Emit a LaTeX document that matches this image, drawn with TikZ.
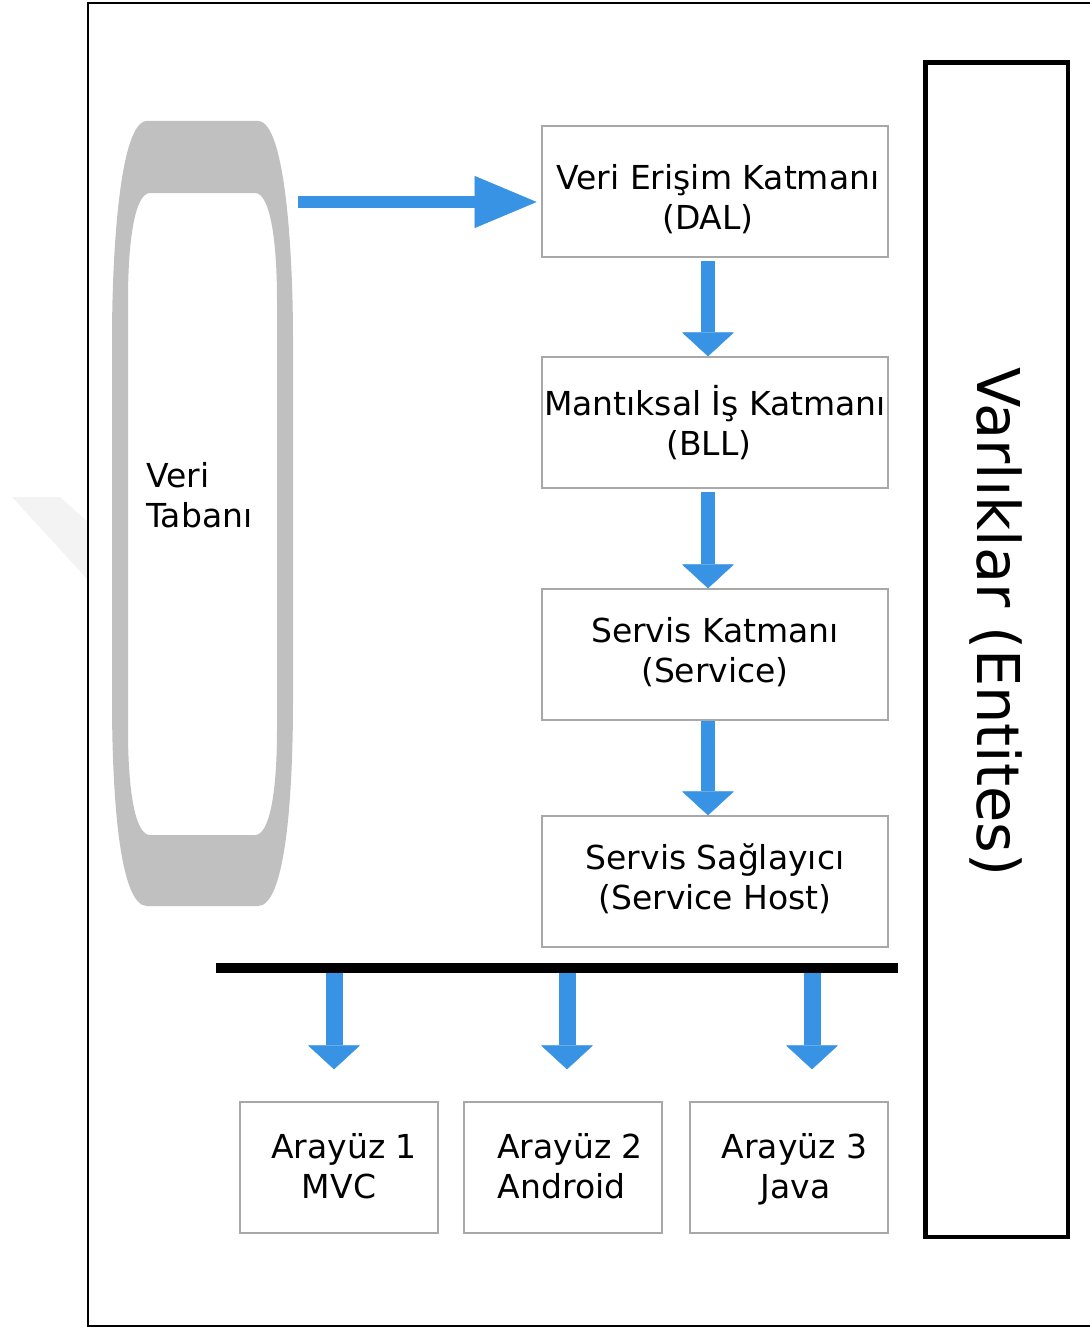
\documentclass[tikz,border=0pt]{standalone}
\usepackage{fontspec}
\setmainfont{DejaVu Sans}
\usetikzlibrary{arrows.meta}
\definecolor{arrowblue}{HTML}{3993E5}
\definecolor{dbgray}{HTML}{C0C0C0}
\definecolor{boxgray}{HTML}{A8A8A8}
\definecolor{wmgray}{HTML}{F3F3F3}
\begin{document}
\begin{tikzpicture}[x=1pt,y=-1pt,
  layer/.style={draw=boxgray, line width=1.5pt, minimum width=346pt, minimum height=131pt,
    align=center, inner sep=0pt, font=\fontsize{33}{40}\selectfont},
  uibox/.style={layer, minimum width=198pt},
  entbox/.style={draw=black, line width=4.5pt, minimum width=142.5pt, minimum height=1174.5pt, inner sep=0pt},
  bluearrow/.style={draw=arrowblue, line width=#1,
    -{Triangle[width=52pt,length=24pt,line width=0.5pt,round]}},
  bluearrow/.default=14pt
]
\useasboundingbox (0,0) rectangle (1089,1327);
% watermark
\fill[wmgray] (12,497) -- (60,497) -- (88,522) -- (88,580) -- cycle;
% outer frame
\draw[line width=2pt] (1100,3) -- (88,3) -- (88,1326) -- (1100,1326);

% database
\fill[dbgray, even odd rule]
  (147,121) -- (258,121) .. controls (285,121) and (293,250) .. (293,340) -- (293,700)
  .. controls (293,800) and (285,906) .. (258,906) -- (147,906)
  .. controls (120,906) and (112,800) .. (112,700) -- (112,340)
  .. controls (112,250) and (120,121) .. (147,121) -- cycle
  (150,193) -- (255,193) .. controls (270,193) and (277,240) .. (277,300) -- (277,730)
  .. controls (277,790) and (270,835) .. (255,835) -- (150,835)
  .. controls (135,835) and (128,790) .. (128,730) -- (128,300)
  .. controls (128,240) and (135,193) .. (150,193) -- cycle;
\node[anchor=west, align=left, inner sep=0pt, font=\fontsize{33}{40}\selectfont] (db) at (146,495) {\rule{0pt}{36pt}Veri\strut\\Tabanı\strut};

% layers
\node[layer] (dal) at (715,191.5) {\rule{0pt}{48pt}\hspace*{6pt}Veri Erişim Katmanı\strut\\\hspace*{-14pt}(DAL)\strut};
\node[layer] (bll) at (715,422.5) {\rule{0pt}{38pt}Mantıksal İş Katmanı\strut\\\hspace*{-12pt}(BLL)\strut};
\node[layer] (svc) at (715,654.5) {Servis Katmanı\strut\\(Service)\strut};
\node[layer] (host) at (715,881.5) {Servis Sağlayıcı\strut\\(Service Host)\strut};

\node[uibox] (ui1) at (339,1167.5) {\rule{0pt}{34pt}\hspace*{10pt}Arayüz 1\strut\\MVC\strut};
\node[uibox] (ui2) at (563,1167.5) {\rule{0pt}{34pt}\hspace*{14pt}Arayüz 2\strut\\\hspace*{-3pt}Android\strut};
\node[uibox] (ui3) at (789,1167.5) {\rule{0pt}{34pt}\hspace*{11pt}Arayüz 3\strut\\\hspace*{13pt}Java\strut};

% entities
\node[entbox] (ent) at (996.75,649.75) {};
\node[rotate=-90, inner sep=0pt, font=\fontsize{59}{64}\selectfont] (entl) at (996,622) {Varlıklar (Entites)};

% arrows
\coordinate (dbout) at (298,202);
\draw[bluearrow=12pt, -{Triangle[width=52pt,length=62pt,line width=0.5pt,round]}, shorten >=5pt]
  (dbout) -- (dbout -| dal.west);
\draw[bluearrow, shorten <=3pt] ([xshift=-7pt]dal.south) -- ([xshift=-7pt]bll.north);
\draw[bluearrow, shorten <=3pt] ([xshift=-7pt]bll.south) -- ([xshift=-7pt]svc.north);
\draw[bluearrow, shorten <=0pt] ([xshift=-7pt]svc.south) -- ([xshift=-7pt]host.north);

% bus bar
\coordinate (barL) at (216,968);
\coordinate (barR) at (898,968);
\draw[line width=10pt] (barL) -- (barR);
\coordinate (b1) at (334,973);
\coordinate (b2) at (567,973);
\coordinate (b3) at (812,973);
\draw[bluearrow=17pt, shorten >=32pt] (b1) -- (b1 |- ui1.north);
\draw[bluearrow=17pt, shorten >=32pt] (b2) -- (b2 |- ui2.north);
\draw[bluearrow=17pt, shorten >=32pt] (b3) -- (b3 |- ui3.north);
\end{tikzpicture}
\end{document}
